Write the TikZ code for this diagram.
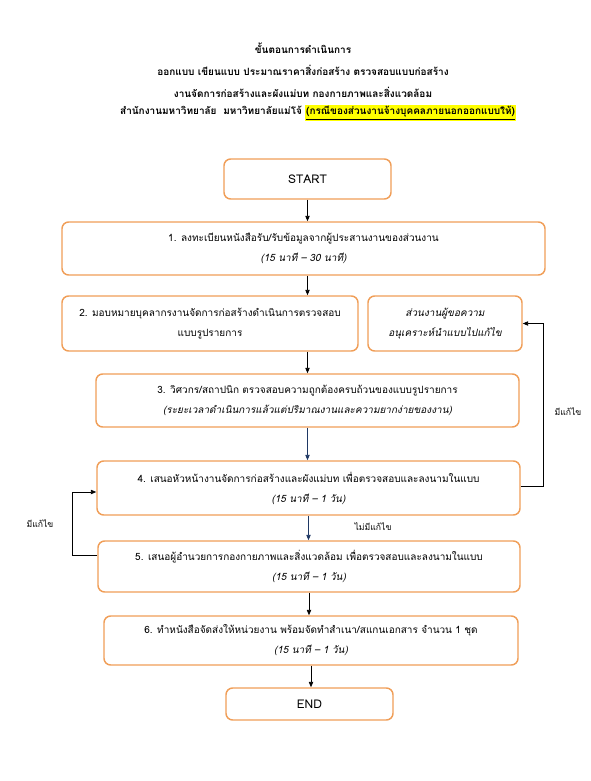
\documentclass[tikz,border=0pt]{standalone}
\usepackage{fontspec}
\setmainfont[Script=Thai]{Loma}
\usepackage{tikz}
\usetikzlibrary{arrows.meta}

\definecolor{boxorange}{RGB}{240,158,88}
\definecolor{flownavy}{RGB}{31,56,100}
\definecolor{hiyellow}{RGB}{255,255,0}

\begin{document}
\begin{tikzpicture}[x=0.75pt,y=0.75pt,yscale=-1,xscale=1,
  stepbox/.style={draw=boxorange,line width=1.1pt,rounded corners=5pt,fill=white,inner sep=0pt,align=center,font=\fontsize{7.5}{15}\selectfont},
  titletext/.style={inner sep=0.75pt,font=\fontsize{7.5}{9}\selectfont\bfseries},
  note/.style={inner sep=0.75pt,font=\fontsize{6.5}{8}\selectfont},
  flow/.style={-{Triangle[length=4pt,width=3.2pt]},line width=0.6pt}]
%set diagram left start at 0, and has height of 781
\useasboundingbox (0,0) rectangle (590,781);

% Title
\node[titletext] (title1) at (303,48) {ขั้นตอนการดำเนินการ};
\node[titletext] (title2) at (303,70) {ออกแบบ เขียนแบบ ประมาณราคาสิ่งก่อสร้าง ตรวจสอบแบบก่อสร้าง};
\node[titletext] (title3) at (303,92) {งานจัดการก่อสร้างและผังแม่บท กองกายภาพและสิ่งแวดล้อม};
\node[titletext] (title4) at (318,113) {สำนักงานมหาวิทยาลัย\ \ มหาวิทยาลัยแม่โจ้ \setlength{\fboxsep}{0.6pt}\colorbox{hiyellow}{\underline{(กรณีของส่วนงานจ้างบุคคลภายนอกออกแบบให้)}}};

%Shape: Boxes
\node[stepbox,minimum width=125.25pt,minimum height=30pt] (start) at (307.5,179) {\fontsize{9}{11}\selectfont START};
\node[stepbox,minimum width=362.25pt,minimum height=39.75pt] (box1) at (303.5,248.5) {1. ลงทะเบียนหนังสือรับ/รับข้อมูลจากผู้ประสานงานของส่วนงาน\\{\itshape (15 นาที – 30 นาที)}};
\node[stepbox,minimum width=222pt,minimum height=41.25pt] (box2) at (210,323.5) {2. มอบหมายบุคลากรงานจัดการก่อสร้างดำเนินการตรวจสอบ\\แบบรูปรายการ};
\node[stepbox,minimum width=115.5pt,minimum height=41.25pt] (side) at (445,323.5) {\itshape ส่วนงานผู้ขอความ\\\itshape อนุเคราะห์นำแบบไปแก้ไข};
\node[stepbox,minimum width=317.25pt,minimum height=39.75pt] (box3) at (307.5,400.5) {3. วิศวกร/สถาปนิก ตรวจสอบความถูกต้องครบถ้วนของแบบรูปรายการ\\{\itshape (ระยะเวลาดำเนินการแล้วแต่ปริมาณงานและความยากง่ายของงาน)}};
\node[stepbox,minimum width=317.25pt,minimum height=40.5pt] (box4) at (308.5,488) {4. เสนอหัวหน้างานจัดการก่อสร้างและผังแม่บท เพื่อตรวจสอบและลงนามในแบบ\\{\itshape (15 นาที – 1 วัน)}};
\node[stepbox,minimum width=316.5pt,minimum height=38.25pt] (box5) at (309,566.5) {5. เสนอผู้อำนวยการกองกายภาพและสิ่งแวดล้อม เพื่อตรวจสอบและลงนามในแบบ\\{\itshape (15 นาที – 1 วัน)}};
\node[stepbox,minimum width=310.5pt,minimum height=36.75pt] (box6) at (311,640.5) {6. ทำหนังสือจัดส่งให้หน่วยงาน พร้อมจัดทำสำเนา/สแกนเอกสาร จำนวน 1 ชุด\\{\itshape (15 นาที – 1 วัน)}};
\node[stepbox,minimum width=125.25pt,minimum height=24pt] (end) at (309.5,704) {\fontsize{9}{11}\selectfont END};

%Straight Lines
\draw[flow] (start.south) -- (start.south |- box1.north);
\draw[flow] (box1.south -| box3.north) -- (box2.north -| box3.north);
\draw[flow] (box2.south -| box3.north) -- (box3.north);
\draw[flow,flownavy] (box3.south) -- (box3.south |- box4.north);
\draw[flow,flownavy] (box4.south) -- (box4.south |- box5.north);
\draw[flow] (box5.south) -- (box5.south |- box6.north);
\draw[flow] (box6.south) -- (box6.south |- end.north);

% Feedback lines
\draw[flow] ([yshift=-1.5pt]box4.east) -- ++(23,0) |- (side.east);
\draw[flow] ([yshift=-8.6pt]box5.west) -- ++(-25,0) |- ([yshift=3pt]box4.west);

% Text Node
\node[note] (yesright) at (568,412) {มีแก้ไข};
\node[note] (yesleft) at (40,524) {มีแก้ไข};
\node[note] (nofix) at (373,527) {ไม่มีแก้ไข};

\end{tikzpicture}
\end{document}
